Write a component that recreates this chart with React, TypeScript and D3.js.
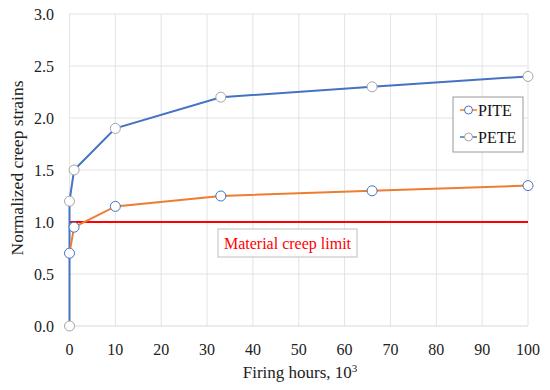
import React from "react";
import * as d3 from "d3";

const xTicks = [0, 10, 20, 30, 40, 50, 60, 70, 80, 90, 100];
const yTicks = [0, 0.5, 1.0, 1.5, 2.0, 2.5, 3.0];
const piteX = [0, 1, 10, 33, 66, 100];
const piteY = [0.7, 0.95, 1.15, 1.25, 1.3, 1.35];
const peteX = [0, 0, 1, 10, 33, 66, 100];
const peteY = [0, 1.2, 1.5, 1.9, 2.2, 2.3, 2.4];
const limitX = [0, 100];
const limitY = [1.0, 1.0];
const seriesNames = ["PITE", "PETE"];

const W = 550, H = 390;
const FONT = "'Liberation Serif', serif";

export default function App() {
  const x = d3.scaleLinear().domain([0, 100]).range([69.5, 528]);
  const y = d3.scaleLinear().domain([0, 3]).range([326, 14]);
  const line = d3.line<[number, number]>().x(d => x(d[0])).y(d => y(d[1]));
  const pite = piteX.map((v, i) => [v, piteY[i]] as [number, number]);
  const pete = peteX.map((v, i) => [v, peteY[i]] as [number, number]);
  const lim = limitX.map((v, i) => [v, limitY[i]] as [number, number]);
  const orange = "#ed7d31", blue = "#4472c4", grey = "#a5a5a5";
  return (
    <svg width={W} height={H} style={{ position: "absolute", left: 0, top: 0, background: "#fff" }} fontFamily={FONT}>
      {xTicks.map(t => (
        <line key={"gx" + t} x1={x(t)} x2={x(t)} y1={y(3)} y2={y(0)} stroke="#e3e3e3" strokeWidth={1} />
      ))}
      {yTicks.map(t => (
        <line key={"gy" + t} x1={x(0)} x2={x(100)} y1={y(t)} y2={y(t)} stroke={t === 0 ? "#d9d9d9" : "#e3e3e3"} strokeWidth={1} />
      ))}
      {xTicks.map(t => (
        <text key={"tx" + t} x={x(t)} y={355} textAnchor="middle" fontSize={16} fill="#222">{t}</text>
      ))}
      {yTicks.map(t => (
        <text key={"ty" + t} x={54} y={y(t) + 5.5} textAnchor="end" fontSize={16} fill="#222">{t.toFixed(1)}</text>
      ))}
      <text x={300} y={378} textAnchor="middle" fontSize={17} fill="#222">
        Firing hours, 10<tspan dy={-6} fontSize={11}>3</tspan>
      </text>
      <text transform={`translate(23,168) rotate(-90)`} textAnchor="middle" fontSize={17.5} fill="#222">Normalized creep strains</text>
      <path d={line(lim) || ""} stroke="#ff0000" strokeWidth={2} fill="none" />
      <path d={line(pete) || ""} stroke={blue} strokeWidth={2} fill="none" />
      <path d={line(pite) || ""} stroke={orange} strokeWidth={2} fill="none" />
      {pete.map((d, i) => (
        <circle key={"pe" + i} cx={x(d[0])} cy={y(d[1])} r={5} fill="#fff" stroke={grey} strokeWidth={1} />
      ))}
      {pite.map((d, i) => (
        <circle key={"pi" + i} cx={x(d[0])} cy={y(d[1])} r={5} fill="#fff" stroke={blue} strokeWidth={1} />
      ))}
      <rect x={218} y={229} width={139} height={28} fill="#fff" stroke="#bfbfbf" strokeWidth={1} />
      <text x={287.5} y={248.5} textAnchor="middle" fontSize={16} fill="#ff0000">Material creep limit</text>
      <rect x={453} y={97} width={70} height={55} fill="#fff" stroke="#9a9a9a" strokeWidth={1} />
      {seriesNames.map((n, i) => {
        const cy = 110 + i * 27;
        const c = i === 0 ? orange : blue;
        const m = i === 0 ? blue : grey;
        return (
          <g key={n}>
            <line x1={460} x2={477} y1={cy} y2={cy} stroke={c} strokeWidth={1.5} />
            <circle cx={468.5} cy={cy} r={4} fill="#fff" stroke={m} strokeWidth={1} />
            <text x={478} y={cy + 5.5} fontSize={16} fill="#111">{n}</text>
          </g>
        );
      })}
    </svg>
  );
}
